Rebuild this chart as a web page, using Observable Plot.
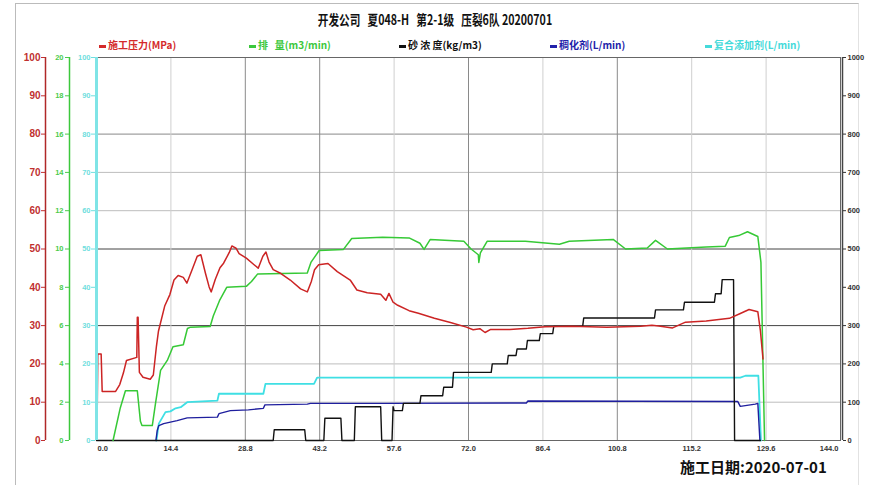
<!DOCTYPE html>
<html><head><meta charset="utf-8">
<script src="https://cdn.jsdelivr.net/npm/d3@7"></script>
<script src="https://cdn.jsdelivr.net/npm/@observablehq/plot@0.6"></script>
<style>
body{margin:0;background:#fff;}
#wrap{position:relative;width:870px;height:485px;overflow:hidden;font-family:"Noto Sans CJK SC","Noto Sans",sans-serif;}
#border{position:absolute;left:15px;top:3px;width:842px;height:500px;border-left:1.5px solid #bbb;border-top:1.5px solid #bbb;border-right:1px solid #e2e2e2}
#chart{position:absolute;left:0;top:0}
#title{position:absolute;top:9px;left:0;width:870px;text-align:center;font-weight:bold;font-size:14px;color:#111;white-space:pre;transform:scaleX(0.76);transform-origin:435px 0}
.leg{position:absolute;top:38px;font-size:10px;font-weight:bold;white-space:pre;line-height:14px}
.leg i{display:inline-block;width:7px;height:3px;margin-right:2px;vertical-align:middle}
#date{position:absolute;left:680px;top:456px;font-size:15px;font-weight:bold;color:#111}
</style></head>
<body>
<div id="wrap">
<div id="border"></div>
<div id="chart"></div>
<div id="title"></div>
<div id="legend"></div>
<div id="date"></div>
</div>
<script>
// ---- text ----
const titleText = "开发公司   夏048-H   第2-1级   压裂6队 20200701";
const dateText = "施工日期:2020-07-01";
const seriesNames = ["施工压力(MPa)", "排   量(m3/min)", "砂 浓 度(kg/m3)", "稠化剂(L/min)", "复合添加剂(L/min)"];

// ---- ticks ----
const xTicks = [0, 14.4, 28.8, 43.2, 57.6, 72.0, 86.4, 100.8, 115.2, 129.6, 144.0];
const pressureTicks = [0, 10, 20, 30, 40, 50, 60, 70, 80, 90, 100];
const rateTicks = [0, 2, 4, 6, 8, 10, 12, 14, 16, 18, 20];
const additiveTicks = [0, 10, 20, 30, 40, 50, 60, 70, 80, 90, 100];
const sandTicks = [0, 100, 200, 300, 400, 500, 600, 700, 800, 900, 1000];

// ---- series: [time (min), value] ----
const pressure = [[0.15,9.1],[0.25,22.6],[0.9,22.6],[1.1,12.8],[3.7,12.8],[4.5,14.6],[5.2,17.6],[5.8,20.9],[7.8,21.7],[7.9,32.2],[8.05,32.2],[8.3,17.8],[9.0,16.5],[10.4,16.0],[11.0,17.1],[11.6,24.6],[12.0,28.6],[13.2,35.1],[14.2,38.1],[15.0,41.9],[15.8,43.1],[16.8,42.6],[17.5,41.1],[18.5,44.6],[19.5,48.1],[20.2,48.5],[21.1,43.6],[21.8,40.1],[22.2,38.8],[23.0,42.1],[23.9,45.1],[24.6,46.3],[25.7,49.1],[26.2,50.8],[27.0,50.2],[27.6,48.8],[29.0,47.6],[30.5,45.9],[31.3,45.0],[32.2,48.1],[32.8,49.2],[33.4,46.6],[34.2,44.6],[35.7,43.6],[37.5,41.9],[39.5,39.6],[40.8,38.8],[41.6,41.6],[42.2,44.6],[43.0,45.9],[44.8,46.2],[46.6,44.1],[49.1,41.9],[50.4,39.3],[52.4,38.6],[55.0,38.2],[56.0,36.6],[56.6,38.4],[57.4,36.1],[58.3,35.3],[60.5,33.9],[62.3,33.2],[65.4,31.9],[68.5,30.8],[71.6,29.6],[72.9,28.9],[74.2,29.2],[75.2,28.2],[76.3,29.0],[80.0,29.0],[83.5,29.3],[86.8,29.7],[92.0,29.8],[98.8,29.6],[105.3,29.8],[107.5,30.1],[108.8,29.9],[111.5,29.4],[114.0,30.9],[118.0,31.2],[122.5,31.9],[124.5,33.1],[126.3,34.2],[128.0,33.6],[128.5,28.6],[129.0,21.3]];
const rate = [[3.2,0],[4.6,1.7],[5.6,2.6],[7.9,2.6],[8.5,1.0],[8.8,0.78],[10.8,0.78],[11.4,1.9],[12.4,3.66],[13.7,4.18],[14.8,4.9],[16.8,5.0],[17.6,5.85],[18.2,5.92],[22.0,5.95],[22.6,6.5],[23.8,7.3],[25.2,8.0],[29.0,8.05],[30.0,8.3],[31.2,8.7],[40.8,8.75],[41.5,9.3],[43.1,9.92],[47.8,9.98],[49.4,10.55],[55.4,10.62],[60.5,10.58],[62.6,10.3],[63.4,9.98],[64.6,10.5],[71.1,10.4],[72.5,10.0],[73.9,9.7],[74.0,9.3],[74.3,9.8],[75.6,10.4],[83.0,10.4],[89.6,10.25],[91.5,10.4],[100.0,10.5],[102.4,10.0],[106.6,10.05],[108.2,10.45],[110.5,10.0],[118.0,10.1],[121.7,10.15],[122.5,10.6],[124.3,10.7],[126.0,10.9],[128.0,10.65],[128.6,9.3],[129.3,0]];
const sand = [[0,0],[34.2,0],[34.4,28],[40.3,28],[40.5,0],[44.0,0],[44.2,58],[47.3,58],[47.5,0],[49.9,0],[50.1,88],[55.0,88],[55.2,0],[57.2,0],[57.4,88],[57.6,78],[59.2,78],[59.4,97],[62.6,97],[62.8,117],[67.0,117],[67.2,139],[68.9,139],[69.1,178],[76.4,178],[76.6,200],[79.5,200],[79.7,222],[81.2,222],[81.4,239],[83.2,239],[83.4,261],[85.7,261],[85.9,279],[88.3,279],[88.5,298],[94.1,298],[94.3,320],[108.0,320],[108.2,341],[113.6,341],[113.8,361],[119.6,361],[119.8,383],[120.9,383],[121.1,420],[123.3,420],[123.5,0],[128.5,0]];
const thickener = [[11.5,0],[11.75,2.6],[12.06,3.9],[13.0,4.4],[14.3,4.8],[15.6,5.2],[17.55,5.9],[23.4,6.1],[23.7,7.0],[25.9,7.8],[29.4,8.0],[32.3,8.4],[32.6,9.3],[40.8,9.5],[41.4,9.7],[55.0,9.7],[83.2,9.8],[83.5,10.3],[124.1,10.2],[124.6,8.9],[127.5,9.5],[128.0,9.7],[128.4,0]];
const additive = [[11.6,0],[12.06,4.4],[13.35,7.4],[14.3,7.6],[15.3,8.4],[16.3,8.7],[17.55,10.0],[23.4,10.4],[23.7,12.2],[32.3,12.2],[32.7,14.8],[42.1,14.8],[42.7,16.4],[124.6,16.4],[125.6,16.9],[128.1,16.9],[128.6,0]];

// ---- styling ----
const colors = {pressure:"#cc2424", rate:"#36c936", sand:"#111111", thickener:"#1f1f9e", additive:"#3fdfe4"};
const legendColors = ["#d42a2a", "#3cc83c", "#111111", "#2222aa", "#44dada"];
const legendLeft = [99, 249, 399, 550, 705];

document.getElementById("title").textContent = titleText;
document.getElementById("date").textContent = dateText;
const leg = document.getElementById("legend");
seriesNames.forEach((n, i) => {
  const s = document.createElement("div");
  s.className = "leg";
  s.style.left = legendLeft[i] + "px";
  s.style.color = legendColors[i];
  s.innerHTML = `<i style="background:${legendColors[i]}"></i>`;
  s.appendChild(document.createTextNode(n));
  leg.appendChild(s);
});

const gridYBlack = [30, 50];
const gridYMid = [80];
const gridYLight = [10, 20, 60, 70];
const gridXDark = [28.8, 43.2, 72.0, 100.8];
const gridXLight = [14.4, 57.6, 86.4, 115.2, 129.6];

const fmt1 = d => d.toFixed(1);
const axisFont = {fontWeight: "bold", label: null};

const chart = Plot.plot({
  width: 870, height: 462,
  marginTop: 57, marginBottom: 22, marginLeft: 96, marginRight: 30,
  x: {domain: [0, 144], axis: null},
  y: {domain: [0, 100], axis: null},
  style: {fontFamily: "'Liberation Sans', Arial, sans-serif", background: "transparent", overflow: "visible"},
  marks: [
    Plot.ruleY(gridYLight, {stroke: "#bdbdbd", strokeWidth: 1}),
    Plot.ruleY(gridYMid, {stroke: "#888", strokeWidth: 1}),
    Plot.ruleY(gridYBlack, {stroke: "#444", strokeWidth: 1}),
    Plot.ruleX(gridXLight, {stroke: "#cfcfcf", strokeWidth: 1}),
    Plot.ruleX(gridXDark, {stroke: "#8a8a8a", strokeWidth: 1}),
    Plot.frame({stroke: "#666", strokeWidth: 1}),
    // series
    Plot.line(additive, {x: d => d[0], y: d => d[1], stroke: colors.additive, strokeWidth: 1.8}),
    Plot.line(thickener, {x: d => d[0], y: d => d[1], stroke: colors.thickener, strokeWidth: 1.4}),
    Plot.line(sand, {x: d => d[0], y: d => d[1] / 10, stroke: colors.sand, strokeWidth: 1.4}),
    Plot.line(rate, {x: d => d[0], y: d => d[1] * 5, stroke: colors.rate, strokeWidth: 1.5}),
    Plot.line(pressure, {x: d => d[0], y: d => d[1], stroke: colors.pressure, strokeWidth: 1.5}),
    // axis lines
    Plot.ruleX([0], {stroke: "#7fe4e6", strokeWidth: 3}),
    Plot.ruleX([0], {dx: -27, stroke: "#3cc83c", strokeWidth: 1.5}),
    Plot.ruleX([0], {dx: -51, stroke: "#b02828", strokeWidth: 1.5}),
    Plot.ruleX([144], {dx: 2, stroke: "#444", strokeWidth: 1.5}),
    // left axes
    Plot.axisY(pressureTicks, {anchor: "left", dx: -51, tickSize: 4, tickPadding: 1, color: "#c0302f", fontSize: 10, ...axisFont}),
    Plot.axisY(rateTicks.map(d => d * 5), {anchor: "left", dx: -27, tickSize: 4, tickPadding: 2, tickFormat: d => String(d / 5), color: "#4ccc4c", fontSize: 7.5, ...axisFont}),
    Plot.axisY(additiveTicks, {anchor: "left", dx: -1, tickSize: 4, tickPadding: 1, tickFormat: d => String(d), color: "#70dede", fontSize: 7.5, ...axisFont}),
    // right axis
    Plot.axisY(sandTicks.map(d => d / 10), {anchor: "right", dx: 2, tickSize: 3, tickPadding: 2, tickFormat: d => String(Math.round(d * 10)), color: "#333", fontSize: 7.5, ...axisFont}),
    // x axis
    Plot.axisX(xTicks.slice(1, -1), {anchor: "bottom", tickSize: 0, tickPadding: 5, tickFormat: fmt1, color: "#333", fontSize: 7.5, ...axisFont}),
    Plot.axisX(xTicks.slice(0, 1), {anchor: "bottom", tickSize: 0, tickPadding: 5, tickFormat: fmt1, textAnchor: "start", dx: 1, color: "#333", fontSize: 7.5, ...axisFont}),
    Plot.axisX(xTicks.slice(-1), {anchor: "bottom", tickSize: 0, tickPadding: 5, tickFormat: fmt1, textAnchor: "end", dx: -2, color: "#333", fontSize: 7.5, ...axisFont})
  ]
});
document.getElementById("chart").appendChild(chart);
</script>
</body></html>
